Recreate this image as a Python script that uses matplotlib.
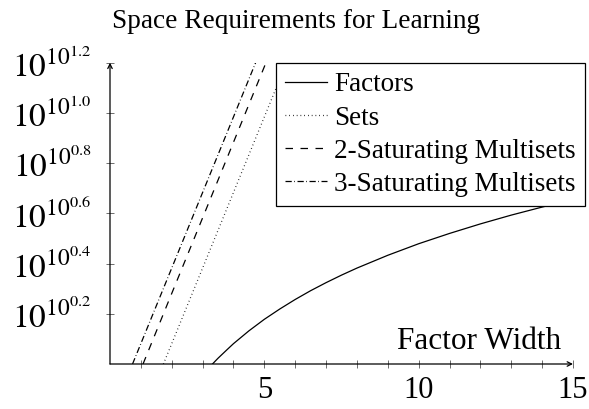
import matplotlib
matplotlib.use("Agg")
import matplotlib.pyplot as plt
from matplotlib.ticker import FixedLocator, NullFormatter

plt.rcParams['font.family'] = ['Liberation Serif', 'DejaVu Serif']
plt.rcParams['mathtext.fontset'] = 'stix'

# y = log10(log10(space))
x_factors = [3.32, 3.5, 3.8, 4, 4.5, 5, 5.5, 6, 6.5, 7, 7.5, 8, 9, 10, 11, 12, 13, 14, 15]
y_factors = [0.000, 0.023, 0.058, 0.081, 0.132, 0.178, 0.219, 0.257, 0.292, 0.324, 0.354,
             0.382, 0.433, 0.479, 0.520, 0.558, 0.593, 0.625, 0.655]

x_sets = [1.73, 2, 3, 4, 5, 6]
y_sets = [0.000, 0.081, 0.382, 0.683, 0.984, 1.285]

x_sat2 = [1.07, 2, 3, 4, 5, 6]
y_sat2 = [0.000, 0.281, 0.582, 0.883, 1.184, 1.485]

x_sat3 = [0.73, 2, 3, 4, 5]
y_sat3 = [0.000, 0.382, 0.683, 0.984, 1.285]

ytick_vals = [0.2, 0.4, 0.6, 0.8, 1.0, 1.2]
ytick_labels = ['0.2', '0.4', '0.6', '0.8', '1.0', '1.2']
xtick_vals = [5, 10, 15]

fig = plt.figure(figsize=(5.89, 4.09), dpi=100)
ax = fig.add_axes([110/589, 1-364/409, (573-110)/589, (364-62.7)/409])

lw = 0.9
ax.plot(x_factors, y_factors, color='black', lw=lw, linestyle='-', label='Factors')
ax.plot(x_sets, y_sets, color='black', lw=lw, linestyle=(0, (0.6, 2.4)), label='Sets')
ax.plot(x_sat2, y_sat2, color='black', lw=lw, linestyle=(0, (6, 6)), label='2-Saturating Multisets')
ax.plot(x_sat3, y_sat3, color='black', lw=lw, linestyle=(0, (5, 2, 0.6, 2)), label='3-Saturating Multisets')

ax.set_xlim(0, 15)
ax.set_ylim(0, 1.2)

for s in ax.spines.values():
    s.set_visible(False)

# axis lines with arrows
ax.annotate('', xy=(15, 0), xytext=(0, 0), xycoords='data',
            arrowprops=dict(arrowstyle='->', lw=lw, color='black', shrinkA=0, shrinkB=0,
                            mutation_scale=8), annotation_clip=False)
ax.annotate('', xy=(0, 1.2), xytext=(0, 0), xycoords='data',
            arrowprops=dict(arrowstyle='->', lw=lw, color='black', shrinkA=0, shrinkB=0,
                            mutation_scale=8), annotation_clip=False)

ax.xaxis.set_major_locator(FixedLocator(xtick_vals))
ax.xaxis.set_minor_locator(FixedLocator([i for i in range(1, 15) if i % 5 != 0]))
ax.set_xticklabels([str(v) for v in xtick_vals])
ax.xaxis.set_minor_formatter(NullFormatter())
ax.set_yticks(ytick_vals)
ax.set_yticklabels([r'$10^{10^{%s}}$' % t for t in ytick_labels])
ax.tick_params(axis='both', which='both', direction='inout', length=6, width=0.6, color='#555555')
ax.tick_params(axis='x', labelsize=22, pad=6)
ax.tick_params(axis='y', labelsize=24, pad=10)

ax.text(14.6, 0.03, 'Factor Width', ha='right', va='bottom', fontsize=22.5)

fig.text(0.503, 1-22/409, 'Space Requirements for Learning', ha='center', va='center', fontsize=19.6)

leg = ax.legend(loc='upper right', bbox_to_anchor=(585/589, 1-63/409), bbox_transform=fig.transFigure,
                borderaxespad=0, fancybox=False, framealpha=1, edgecolor='black', fontsize=19.5,
                handlelength=1.55, handletextpad=0.25, labelspacing=0.3, borderpad=0.35)
leg.get_frame().set_linewidth(lw)

fig.savefig('out.png', dpi=100)
